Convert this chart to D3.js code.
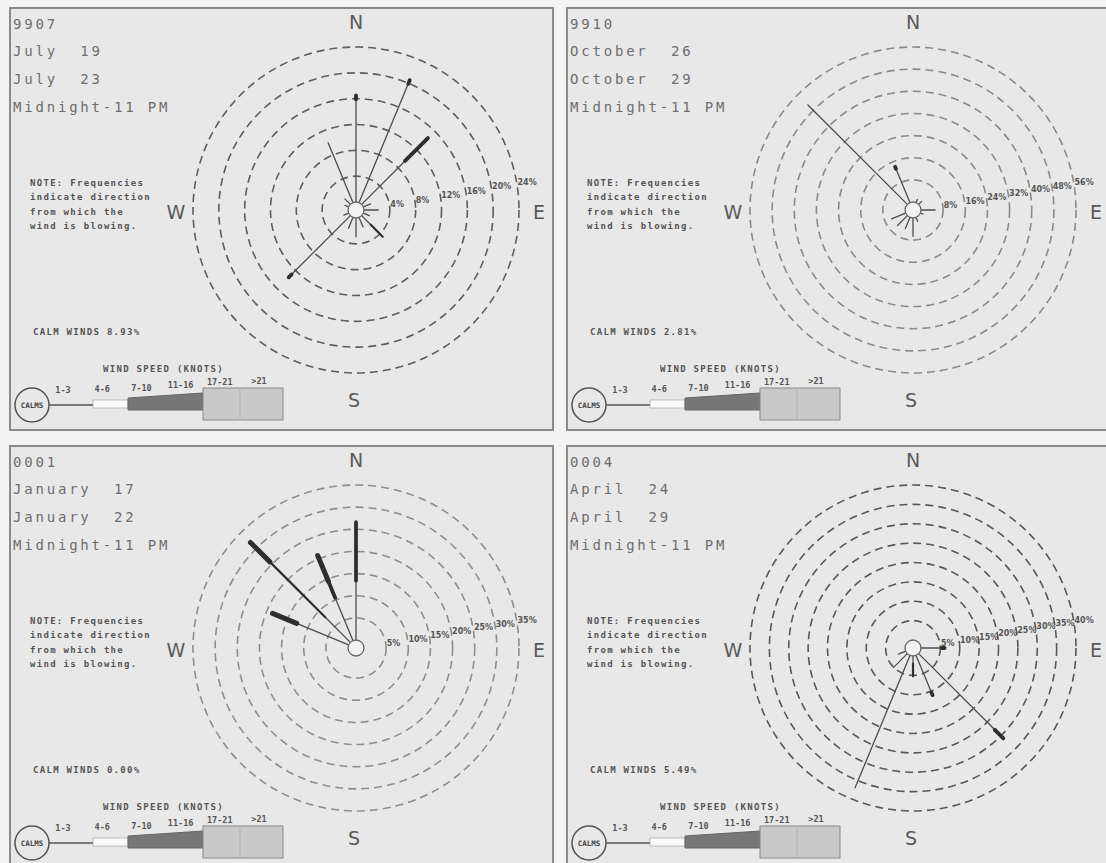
<!DOCTYPE html>
<html><head><meta charset="utf-8">
<script src="https://cdn.jsdelivr.net/npm/d3@7"></script>
<style>
html,body{margin:0;padding:0;background:#f4f4f4;}
svg{display:block;}
</style></head><body>
<svg id="chart" width="1106" height="863"></svg>
<script>
// ---- data ----
const directions = ["N","NNE","NE","ENE","E","ESE","SE","SSE","S","SSW","SW","WSW","W","WNW","NW","NNW"];
const speedClasses = ["1-3","4-6","7-10","11-16","17-21",">21"];

const panelCodes = ["9907","9910","0001","0004"];
const periodStart = ["July  19","October  26","January  17","April  24"];
const periodEnd = ["July  23","October  29","January  22","April  29"];
const hourRange = "Midnight-11 PM";
const calmWinds = ["8.93%","2.81%","0.00%","5.49%"];

const ringTicks1 = [4,8,12,16,20,24];
const ringTicks2 = [8,16,24,32,40,48,56];
const ringTicks3 = [5,10,15,20,25,30,35];
const ringTicks4 = [5,10,15,20,25,30,35,40];

// frequency (%) by direction, one value per speed class (1-3, 4-6, 7-10, 11-16, ...)
const roseJuly = [
  ["N",[15.9,0,0.6]], ["NNE",[19.9,0,0.6]], ["NE",[9.5,0,5.0]], ["ENE",[1.2]],
  ["E",[2.2]], ["ESE",[1.0]], ["SE",[2.0,2.6]], ["SSE",[1.6]],
  ["S",[2.9]], ["SSW",[1.8]], ["SW",[12.9,0,0.6]], ["WSW",[0.8]],
  ["WNW",[0.6]], ["NW",[1.2]], ["NNW",[10.0]]
];
const roseOctober = [
  ["NNE",[1.2]], ["NE",[1.5]], ["E",[5.1]], ["ESE",[1.0]], ["SSE",[1.5]],
  ["S",[6.6]], ["SSW",[4.4]], ["SW",[5.0]], ["WSW",[5.5]],
  ["NW",[50.8]], ["NNW",[13.2,0,0.8]]
];
const roseJanuary = [
  ["N",[13.4,0,13.2]], ["NNW",[10.5,0,4.0,6.3]], ["NW",[8.0,17.7,0,6.2]], ["WNW",[12.7,0,0,5.9]]
];
const roseApril = [
  ["E",[5.4,0,0.7]], ["SE",[27.8,0,3.1]], ["SSE",[10.4,0,0.7]], ["S",[2.0,3.2]],
  ["SSW",[37.0]], ["SW",[5.0]], ["WSW",[2.0]]
];

// ---- layout ----
const panels = [
  {code:panelCodes[0], start:periodStart[0], end:periodEnd[0], calm:calmWinds[0], ticks:ringTicks1, rose:roseJuly},
  {code:panelCodes[1], start:periodStart[1], end:periodEnd[1], calm:calmWinds[1], ticks:ringTicks2, rose:roseOctober},
  {code:panelCodes[2], start:periodStart[2], end:periodEnd[2], calm:calmWinds[2], ticks:ringTicks3, rose:roseJanuary},
  {code:panelCodes[3], start:periodStart[3], end:periodEnd[3], calm:calmWinds[3], ticks:ringTicks4, rose:roseApril}
];
const origins = [[10,8],[567,8],[10,446],[567,446]];
const ringShade = ["#5e5e5e","#8a8a8a","#8e8e8e","#585858"];
const panelW = 543, panelH = 422;
const center = [346, 202];
const rInner = 8, rOuter = 163;
const classWidth = [1.3, 2.2, 3.8, 5, 6, 7];
const legendLabelY = [387, 386, 385, 382, 379, 378];
const mono = "'DejaVu Sans Mono', monospace";

const svg = d3.select("#chart");
const angle = d3.scalePoint().domain(directions).range([0, 337.5]);
const rad = deg => deg * Math.PI / 180;
const polar = (rv, deg) => [rv * Math.sin(rad(deg)), -rv * Math.cos(rad(deg))];

panels.forEach((p, i) => {
  const g = svg.append("g").attr("transform", `translate(${origins[i]})`);
  g.append("rect").attr("width", panelW).attr("height", panelH)
    .attr("fill", "#e8e8e8").attr("stroke", "#8a8a8a").attr("stroke-width", 2);

  // header lines
  g.selectAll("text.hdr").data([p.code, p.start, p.end, hourRange]).join("text")
    .attr("class", "hdr").attr("x", 3).attr("y", (d, j) => [21, 48, 76, 104][j])
    .attr("font-family", mono).attr("font-size", 14).attr("letter-spacing", 2.8)
    .attr("fill", "#6e6e6e").style("white-space", "pre").text(d => d);

  // note
  g.selectAll("text.note").data(["NOTE: Frequencies","indicate direction","from which the","wind is blowing."]).join("text")
    .attr("class", "note").attr("x", 20).attr("y", (d, j) => 178 + j * 14.3)
    .attr("font-family", mono).attr("font-weight", "bold").attr("font-size", 9).attr("letter-spacing", 1.3)
    .attr("fill", "#555").text(d => d);

  g.append("text").attr("x", 23).attr("y", 327)
    .attr("font-family", mono).attr("font-weight", "bold").attr("font-size", 9).attr("letter-spacing", 1.3)
    .attr("fill", "#555").text("CALM WINDS " + p.calm);

  // rose
  const rose = g.append("g").attr("transform", `translate(${center})`);
  const r = d3.scaleLinear().domain([0, d3.max(p.ticks)]).range([rInner, rOuter]);

  rose.selectAll("circle.ring").data(p.ticks).join("circle").attr("class", "ring")
    .attr("r", d => r(d)).attr("fill", "none").attr("stroke", ringShade[i])
    .attr("stroke-width", 1.6).attr("stroke-dasharray", "8,5");

  rose.selectAll("text.tick").data(p.ticks).join("text").attr("class", "tick")
    .attr("x", d => polar(r(d), 80)[0] + 1).attr("y", d => polar(r(d), 80)[1] + 3)
    .attr("font-family", "'DejaVu Sans', sans-serif").attr("font-weight", "bold").attr("font-size", 8)
    .attr("fill", "#555").text(d => d + "%");

  // spoke segments, stacked outward by speed class
  const segs = [];
  p.rose.forEach(([dir, vals]) => {
    let acc = 0;
    vals.forEach((v, k) => {
      if (v > 0) segs.push({dir, from: acc, to: acc + v, cls: k});
      acc += v;
    });
  });
  rose.selectAll("line.seg").data(segs).join("line").attr("class", "seg")
    .attr("x1", d => polar(r(d.from), angle(d.dir))[0]).attr("y1", d => polar(r(d.from), angle(d.dir))[1])
    .attr("x2", d => polar(r(d.to), angle(d.dir))[0]).attr("y2", d => polar(r(d.to), angle(d.dir))[1])
    .attr("stroke", d => d.cls === 0 ? "#4c4c4c" : "#2e2e2e")
    .attr("stroke-width", d => classWidth[d.cls]).attr("stroke-linecap", "round");

  rose.append("circle").attr("r", rInner).attr("fill", "#f2f2f2").attr("stroke", "#666").attr("stroke-width", 1.3);

  // compass letters
  const compass = [["N",0,-188],["S",-2,190],["W",-180,2],["E",183,2]];
  rose.selectAll("text.cmp").data(compass).join("text").attr("class", "cmp")
    .attr("x", d => d[1]).attr("y", d => d[2]).attr("text-anchor", "middle").attr("dominant-baseline", "central")
    .attr("font-family", "'DejaVu Sans', sans-serif").attr("font-size", 19).attr("fill", "#5a5a5a").text(d => d[0]);

  // speed legend
  const lg = g.append("g");
  lg.append("text").attr("x", 93).attr("y", 364)
    .attr("font-family", mono).attr("font-weight", "bold").attr("font-size", 9).attr("letter-spacing", 1.3)
    .attr("fill", "#555").text("WIND SPEED (KNOTS)");
  lg.append("line").attr("x1", 39).attr("x2", 83).attr("y1", 397).attr("y2", 397).attr("stroke", "#555").attr("stroke-width", 1.3);
  lg.append("rect").attr("x", 83).attr("y", 392).attr("width", 35).attr("height", 8)
    .attr("fill", "#fafafa").attr("stroke", "#999").attr("stroke-width", 0.6);
  lg.append("path").attr("d", "M118,390 L193,385 L193,402 L118,402 Z").attr("fill", "#777").attr("stroke", "#666");
  lg.append("rect").attr("x", 193).attr("y", 380).attr("width", 80).attr("height", 32)
    .attr("fill", "#c9c9c9").attr("stroke", "#888").attr("stroke-width", 1);
  lg.append("line").attr("x1", 230).attr("x2", 230).attr("y1", 380).attr("y2", 412).attr("stroke", "#b5b5b5");
  const lx = d3.scalePoint().domain(speedClasses).range([53, 249]);
  lg.selectAll("text.cls").data(speedClasses).join("text").attr("class", "cls")
    .attr("x", d => lx(d)).attr("y", (d, k) => legendLabelY[k] - 2).attr("text-anchor", "middle")
    .attr("font-family", mono).attr("font-weight", "bold").attr("font-size", 8.5)
    .attr("fill", "#555").text(d => d);
  lg.append("circle").attr("cx", 22).attr("cy", 397).attr("r", 17)
    .attr("fill", "#e8e8e8").attr("stroke", "#555").attr("stroke-width", 1.5);
  lg.append("text").attr("x", 22).attr("y", 400).attr("text-anchor", "middle")
    .attr("font-family", mono).attr("font-weight", "bold").attr("font-size", 7.5).attr("fill", "#444").text("CALMS");
});
</script>
</body></html>
